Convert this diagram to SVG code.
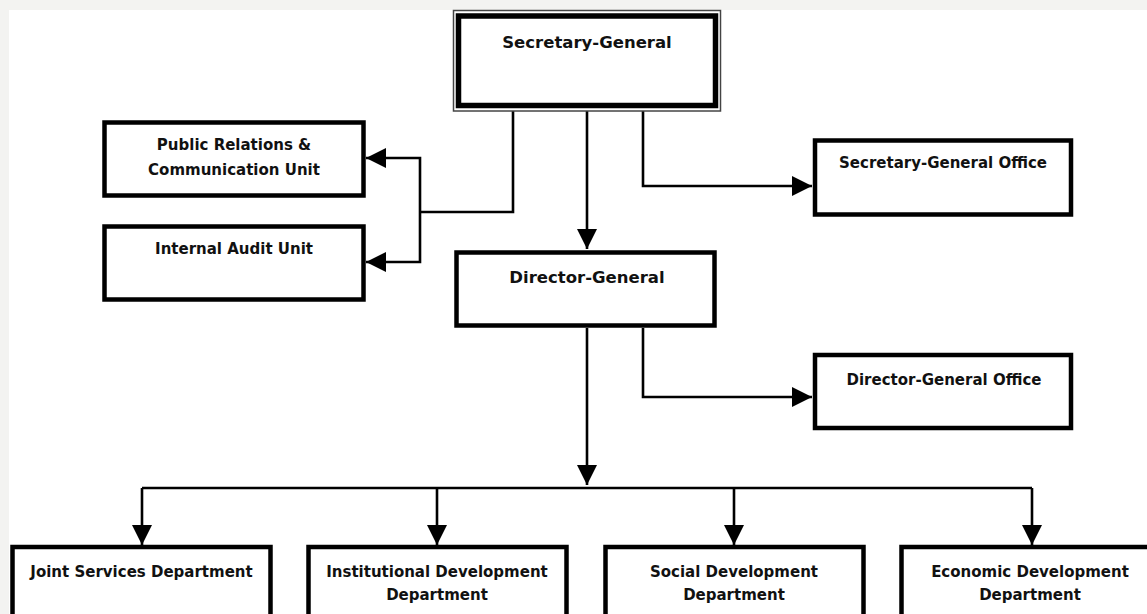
<svg xmlns="http://www.w3.org/2000/svg" width="1147" height="614" viewBox="0 0 1147 614">
<style>
.box{fill:#fff;stroke:#000;stroke-width:4.5}
.t{font-family:"DejaVu Sans",sans-serif;font-weight:bold;font-size:15px;fill:#111;text-anchor:middle}
.tl{font-size:16.5px}
.c{fill:none;stroke:#000;stroke-width:2.6}
</style>
<defs>
<marker id="ah" viewBox="0 0 20 20" refX="20" refY="10" markerWidth="20" markerHeight="20" markerUnits="userSpaceOnUse" orient="auto">
<path d="M0,0 L20,10 L0,20 Z" fill="#000"/>
</marker>
</defs>
<rect x="0" y="0" width="1147" height="614" fill="#f3f3f1"/>
<rect x="9" y="10" width="1138" height="604" fill="#fff"/>

<g id="connectors">
<path class="c" d="M513,111 V212 H420"/>
<path class="c" d="M420,212 V158 H366" marker-end="url(#ah)"/>
<path class="c" d="M420,212 V262 H366" marker-end="url(#ah)"/>
<path class="c" d="M587,111 V249" marker-end="url(#ah)"/>
<path class="c" d="M643,111 V186 H812" marker-end="url(#ah)"/>
<path class="c" d="M643,328 V397 H812" marker-end="url(#ah)"/>
<path class="c" d="M587,328 V485" marker-end="url(#ah)"/>
<path class="c" d="M142,488 H1032"/>
<path class="c" d="M142,488 V545" marker-end="url(#ah)"/>
<path class="c" d="M437,488 V545" marker-end="url(#ah)"/>
<path class="c" d="M734,488 V545" marker-end="url(#ah)"/>
<path class="c" d="M1032,488 V545" marker-end="url(#ah)"/>
</g>

<g id="secretary-general">
<rect x="453.5" y="10.5" width="267" height="100.5" fill="#fff" stroke="#444" stroke-width="1.5"/>
<rect x="458.5" y="16" width="257" height="89.5" fill="#fff" stroke="#000" stroke-width="5.5"/>
<text class="t tl" x="587" y="48">Secretary-General</text>
</g>

<g id="public-relations">
<rect class="box" x="104.5" y="122.5" width="259" height="73"/>
<text class="t" x="234" y="150">Public Relations &amp;</text>
<text class="t" x="234" y="175">Communication Unit</text>
</g>

<g id="internal-audit">
<rect class="box" x="104.5" y="226.5" width="259" height="73"/>
<text class="t" x="234" y="254">Internal Audit Unit</text>
</g>

<g id="secretary-general-office">
<rect class="box" x="815" y="140.5" width="256" height="74"/>
<text class="t" x="943" y="168">Secretary-General Office</text>
</g>

<g id="director-general">
<rect class="box" x="456.5" y="252.5" width="258" height="73"/>
<text class="t tl" x="587" y="283">Director-General</text>
</g>

<g id="director-general-office">
<rect class="box" x="815" y="355" width="256" height="73"/>
<text class="t" x="944" y="385">Director-General Office</text>
</g>

<g id="joint-services">
<rect class="box" x="12.5" y="547" width="258" height="100"/>
<text class="t" x="141.5" y="577">Joint Services Department</text>
</g>

<g id="institutional-development">
<rect class="box" x="308.5" y="547" width="258" height="100"/>
<text class="t" x="437" y="577">Institutional Development</text>
<text class="t" x="437" y="600">Department</text>
</g>

<g id="social-development">
<rect class="box" x="605.5" y="547" width="258" height="100"/>
<text class="t" x="734" y="577">Social Development</text>
<text class="t" x="734" y="600">Department</text>
</g>

<g id="economic-development">
<rect class="box" x="901.5" y="547" width="258" height="100"/>
<text class="t" x="1030" y="577">Economic Development</text>
<text class="t" x="1030" y="600">Department</text>
</g>
</svg>
